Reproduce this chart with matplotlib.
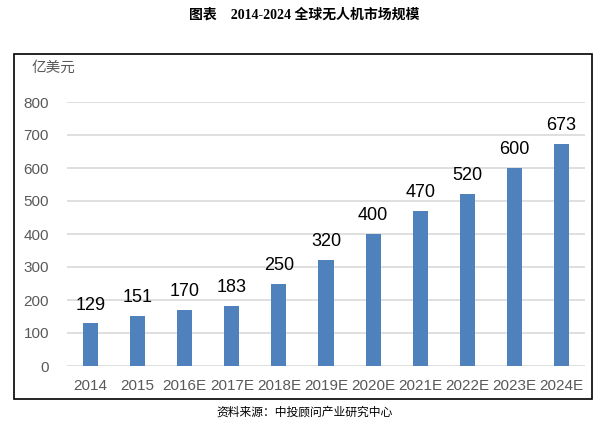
import matplotlib.pyplot as plt
from matplotlib.patches import Rectangle

years = ['2014', '2015', '2016E', '2017E', '2018E', '2019E', '2020E',
         '2021E', '2022E', '2023E', '2024E']
market = [129, 151, 170, 183, 250, 320, 400, 470, 520, 600, 673]

plt.rcParams['font.family'] = ['Noto Sans CJK SC', 'DejaVu Sans']

fig = plt.figure(figsize=(6.08, 4.43), dpi=100)
ax = fig.add_axes([67 / 608, 1 - 366 / 443, 518 / 608, 264 / 443])

x = range(len(years))
bars = ax.bar(x, market, width=0.32, color='#4F81BD', zorder=3)
for xi, v in zip(x, market):
    ax.text(xi, v + 30, str(v), ha='center', va='bottom', fontsize=13,
            color='#000000', family=['Liberation Sans', 'DejaVu Sans'])

ax.set_xlim(-0.5, len(years) - 0.5)
ax.set_ylim(0, 800)
ax.set_yticks(range(0, 801, 100))
ax.set_xticks(list(x))
ax.set_xticklabels(years)
ax.grid(axis='y', color='#d9d9d9', linewidth=1.2, zorder=0)
for s in ax.spines.values():
    s.set_visible(False)
ax.tick_params(length=0, labelsize=11, labelcolor='#595959')
ax.tick_params(axis='y', pad=13)
ax.tick_params(axis='x', pad=9)
for lab in ax.get_xticklabels() + ax.get_yticklabels():
    lab.set_family(['Liberation Sans', 'DejaVu Sans'])

# outer frame
fig.patches.append(Rectangle((14 / 608, 1 - 399 / 443), 578 / 608, 345 / 443,
                             transform=fig.transFigure, fill=False,
                             edgecolor='black', linewidth=1.2))

fig.text(32 / 608, 1 - 68 / 443, '亿美元', fontsize=10.5, color='#595959',
         ha='left', va='center')
fig.text(0.5, 1 - 15 / 443, '图表    2014-2024 全球无人机市场规模', fontsize=10,
         fontweight='bold', ha='center', va='center',
         family=['Liberation Serif', 'Noto Sans CJK SC'])
fig.text(305 / 608, 1 - 412 / 443, '资料来源：中投顾问产业研究中心', fontsize=8.5,
         ha='center', va='center', color='black')

fig.savefig('out.png', dpi=100)
